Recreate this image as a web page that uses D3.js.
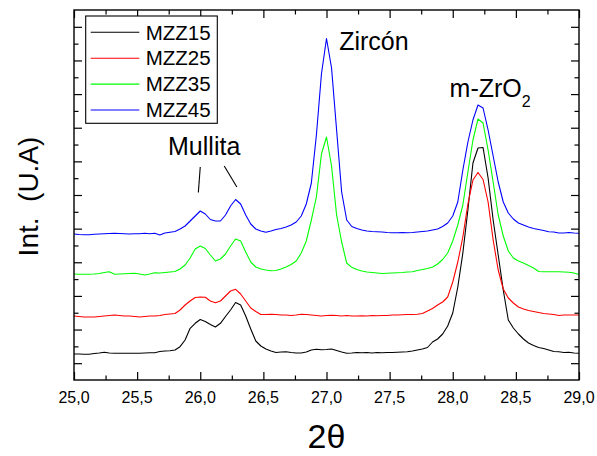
<!DOCTYPE html>
<html>
<head>
<meta charset="utf-8">
<script src="https://cdn.jsdelivr.net/npm/d3@7"></script>
<style>
  html, body { margin: 0; padding: 0; background: #fff; }
  svg { display: block; }
  text { font-family: "Liberation Sans", Arial, sans-serif; fill: #000; }
</style>
</head>
<body>
<svg id="chart" width="597" height="456"></svg>
<script>
// 2θ sampling grid (degrees), 0.04° step from 25.00 to 29.00
const twoTheta = d3.range(101).map(i => +(25 + i * 0.04).toFixed(2));

// Stacked diffractogram intensities (arbitrary units, offsets included)
const mzz15 = [
  26, 26, 25.8, 25.7, 26.5, 27, 27.7, 27, 26.7, 26.8,
  26.7, 26.7, 26.8, 26.7, 27, 27.2, 27.3, 28.5, 29, 29.3,
  30, 33.3, 40, 51.7, 56.7, 60.5, 58.5, 55.5, 53, 56.7,
  63.5, 70, 77.5, 75, 64, 51, 39, 34, 31, 29,
  27.5, 28, 28.3, 27.5, 27, 27, 28, 30, 30.7, 30.3,
  30.5, 31, 29.5, 28, 26.7, 27, 27.5, 27.2, 27.5, 27,
  27.5, 27.3, 27.5, 27.5, 27.7, 28, 28.3, 29, 30, 31,
  32.5, 38, 41, 46, 54, 67, 93, 127, 170, 217,
  232, 232.5, 202, 160, 125, 90, 60, 52, 46, 41,
  37, 34.5, 32.5, 31.5, 30, 28.5, 28.3, 27.5, 27.8, 27,
  26.7
];
const mzz25 = [
  64, 63.5, 63, 63, 63, 63.5, 64, 64.5, 65, 64.5,
  64, 64, 63.5, 63, 63.5, 64, 64, 64.5, 65.5, 66,
  66.5, 70, 75, 79, 82.5, 83, 82.7, 79, 77.3, 79,
  84, 89, 90.7, 86, 79, 72, 68.5, 65.5, 65.5, 65.7,
  65.5, 65, 65, 64.5, 65, 65.7, 65.5, 65, 64.5, 64,
  64.5, 64.7, 64.5, 64, 64.5, 64, 64, 64.3, 64, 64.5,
  64.3, 64.5, 64.5, 65, 65, 65.3, 65.5, 65.5, 65.7, 66.5,
  69, 71.5, 75, 78, 83, 98, 118, 143, 176, 200,
  207.5, 200.5, 178, 140, 110, 91, 82, 77, 73, 71,
  69.5, 68.5, 67.5, 66.5, 66, 65.5, 64.5, 65, 65, 65,
  65
];
const mzz35 = [
  106, 105.8, 105.7, 105.7, 106, 106.5, 107.5, 108.3, 105.7, 106,
  106.3, 106.5, 106.7, 106, 105, 106, 107.3, 107, 107.5, 108,
  108.5, 111, 115, 122, 131, 134, 131.5, 125, 119, 121,
  126, 134, 141, 139, 128, 118, 113, 111, 110, 109.3,
  109.5, 111, 113, 115.5, 119, 127, 139, 160, 183, 226,
  243, 214, 165, 138, 117, 112.7, 110.5, 109, 108, 107.5,
  107, 106.5, 106.7, 107, 107.3, 107.5, 108, 108.3, 109.5, 110.5,
  111.5, 113, 116, 120.5, 127, 139, 155, 175, 208, 240,
  261, 257, 230, 198, 165, 144, 129, 122, 119, 117,
  114.5, 112, 108.5, 108.3, 108.3, 108.3, 108.3, 108, 107.7, 107,
  105.5
];
const mzz45 = [
  146, 145.5, 145.3, 145.3, 145.7, 146, 146.2, 146.5, 146.7, 146.5,
  146.3, 146, 146.3, 146.3, 146.7, 146.3, 146.7, 145, 147, 147.8,
  148.5, 151, 154, 159, 164, 169, 166, 160.5, 159, 159,
  165, 174, 180.5, 176, 165, 156, 151, 149, 147.7, 149,
  150.5, 151.5, 153, 155, 158, 164, 176, 197, 245, 306,
  341.5, 312, 250, 188, 160, 153.5, 151.5, 150, 149, 148.5,
  148.3, 148, 147.5, 147.3, 147.3, 147.5, 147.3, 147.5, 148, 148.5,
  149, 150, 151, 153.5, 157, 164, 178, 210, 238, 260,
  275, 272, 250, 224, 198, 178, 167, 161, 157, 155,
  153, 151.5, 150.5, 149.5, 148.3, 148, 147, 147, 147.5, 147,
  146.7
];

const seriesNames = ["MZZ15", "MZZ25", "MZZ35", "MZZ45"];
const seriesColors = ["#000000", "#ff0000", "#00ff00", "#0000ff"];
const seriesValues = [mzz15, mzz25, mzz35, mzz45];

// Axis ticks
const xMajorTicks = [25.0, 25.5, 26.0, 26.5, 27.0, 27.5, 28.0, 28.5, 29.0];
const xMinorTicks = [25.25, 25.75, 26.25, 26.75, 27.25, 27.75, 28.25, 28.75];
const xTickLabels = ["25,0", "25,5", "26,0", "26,5", "27,0", "27,5", "28,0", "28,5", "29,0"];
const yDomain = [0, 370];
const yTickCount = 22;

// Peak annotations (data coordinates)
const peakLabels = [
  { text: "Mullita", x: 25.745, y: 225 },
  { text: "Zircón", x: 27.1, y: 330 }
];
const zrLabel = { text: "m-ZrO", sub: "2", x: 27.975, y: 283.5 };
const mullitaPointers = [
  { x1: 26.0, y1: 213, x2: 25.985, y2: 187.5 },
  { x1: 26.19, y1: 214, x2: 26.29, y2: 193 }
];

// Layout
const plot = { left: 74, top: 10, width: 505, height: 370 };
const svg = d3.select("#chart");

const x = d3.scaleLinear().domain([25, 29]).range([plot.left, plot.left + plot.width]);
const y = d3.scaleLinear().domain(yDomain).range([plot.top + plot.height, plot.top]);

const majorLen = 8, minorLen = 4.5;
const yTickVals = d3.range(yTickCount + 1).map(i => yDomain[0] + i * (yDomain[1] - yDomain[0]) / yTickCount);
const yMajor = yTickVals.filter((d, i) => i % 2 === 1);
const yMinor = yTickVals.filter((d, i) => i % 2 === 0 && i > 0 && i < yTickCount);

const fmtX = d => xTickLabels[xMajorTicks.indexOf(d)];

function axisGroup(axisFn, scale, ticks, len, translate) {
  const g = svg.append("g").attr("transform", translate)
    .call(axisFn(scale).tickValues(ticks).tickSize(len).tickSizeOuter(0).tickFormat(() => ""));
  g.select(".domain").remove();
  g.selectAll(".tick line").attr("stroke", "#000").attr("stroke-width", 1.2);
  return g;
}

// Bottom axis (ticks pointing into the plot)
const bottomY = plot.top + plot.height;
axisGroup(d3.axisTop, x, xMajorTicks, majorLen, `translate(0,${bottomY})`);
axisGroup(d3.axisTop, x, xMinorTicks, minorLen, `translate(0,${bottomY})`);
svg.append("g").selectAll("text").data(xMajorTicks).join("text")
  .attr("x", d => x(d)).attr("y", 403)
  .attr("text-anchor", "middle").attr("font-size", 16)
  .text(fmtX);
// Top axis
axisGroup(d3.axisBottom, x, xMajorTicks, majorLen, `translate(0,${plot.top})`);
axisGroup(d3.axisBottom, x, xMinorTicks, minorLen, `translate(0,${plot.top})`);
// Left axis
axisGroup(d3.axisRight, y, yMajor, majorLen, `translate(${plot.left},0)`);
axisGroup(d3.axisRight, y, yMinor, minorLen, `translate(${plot.left},0)`);
// Right axis
axisGroup(d3.axisLeft, y, yMajor, majorLen, `translate(${plot.left + plot.width},0)`);
axisGroup(d3.axisLeft, y, yMinor, minorLen, `translate(${plot.left + plot.width},0)`);

// Series
const line = d3.line().x((d, i) => x(twoTheta[i])).y(d => y(d));
svg.append("g").selectAll("path").data(seriesValues).join("path")
  .attr("d", d => line(d))
  .attr("fill", "none")
  .attr("stroke", (d, i) => seriesColors[i])
  .attr("stroke-width", 1.1)
  .attr("stroke-linejoin", "round");

// Frame
svg.append("rect")
  .attr("x", plot.left).attr("y", plot.top)
  .attr("width", plot.width).attr("height", plot.height)
  .attr("fill", "none").attr("stroke", "#000").attr("stroke-width", 1.4);

// Peak annotations
svg.append("g").selectAll("text").data(peakLabels).join("text")
  .attr("x", d => x(d.x)).attr("y", d => y(d.y))
  .attr("font-size", 25)
  .text(d => d.text);
const zr = svg.append("text").attr("x", x(zrLabel.x)).attr("y", y(zrLabel.y)).attr("font-size", 25);
zr.append("tspan").text(zrLabel.text);
zr.append("tspan").attr("font-size", 16).attr("dy", 10).text(zrLabel.sub);
svg.append("g").selectAll("line").data(mullitaPointers).join("line")
  .attr("x1", d => x(d.x1)).attr("y1", d => y(d.y1))
  .attr("x2", d => x(d.x2)).attr("y2", d => y(d.y2))
  .attr("stroke", "#000").attr("stroke-width", 1.1);

// Legend
const legend = { x: 85.7, y: 16, w: 131.6, h: 107.3, row0: 32.3, rowGap: 25.9 };
const lg = svg.append("g");
lg.append("rect")
  .attr("x", legend.x).attr("y", legend.y).attr("width", legend.w).attr("height", legend.h)
  .attr("fill", "#fff").attr("stroke", "#000").attr("stroke-width", 1.1);
const rows = lg.selectAll("g.row").data(seriesNames).join("g").attr("class", "row")
  .attr("transform", (d, i) => `translate(0,${legend.row0 + i * legend.rowGap})`);
rows.append("line")
  .attr("x1", 90.7).attr("x2", 139.3).attr("y1", 0).attr("y2", 0)
  .attr("stroke", (d, i) => seriesColors[i]).attr("stroke-width", 1.1);
rows.append("text")
  .attr("x", 145.7).attr("y", 7.2).attr("font-size", 20.5)
  .text(d => d);

// Axis titles
svg.append("text")
  .attr("transform", "translate(37.5,196.5) rotate(-90)")
  .attr("text-anchor", "middle").attr("font-size", 28)
  .style("white-space", "pre")
  .text("Int.  (U.A)");
svg.append("text")
  .attr("x", 326.5).attr("y", 448)
  .attr("text-anchor", "middle").attr("font-size", 34)
  .text("2θ");
</script>
</body>
</html>
